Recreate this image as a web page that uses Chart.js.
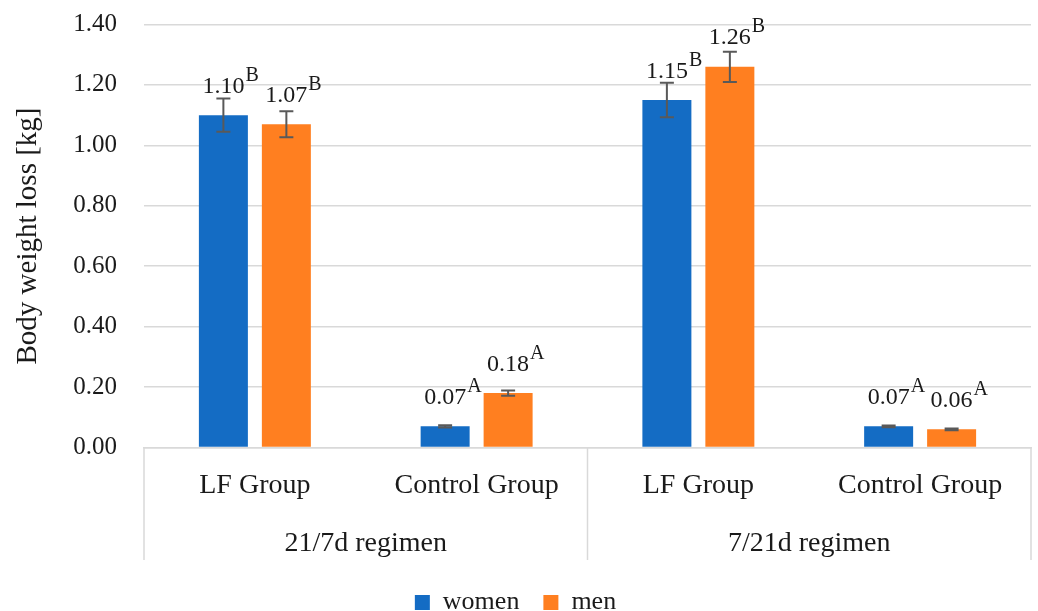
<!DOCTYPE html>
<html>
<head>
<meta charset="utf-8">
<title>Body weight loss by regimen</title>
<script src="https://cdn.jsdelivr.net/npm/chart.js@4.4.1/dist/chart.umd.min.js"></script>
<style>
  html, body { margin: 0; padding: 0; background: #ffffff; }
  #wrap { width: 1038px; height: 611px; position: relative; }
</style>
</head>
<body>
<div id="wrap"><canvas id="chart"></canvas></div>
<script>
// Groups shown along the x axis (inner row) and the regimen each pair belongs to (outer row)
const categories = ['LF Group', 'Control Group', 'LF Group', 'Control Group'];
const regimens = ['21/7d regimen', '7/21d regimen'];

// Mean body weight loss [kg]
const women = [1.10, 0.07, 1.15, 0.07];
const men = [1.07, 0.18, 1.26, 0.06];

// Error bar half-lengths [kg]
const womenErr = [0.055, 0.004, 0.057, 0.003];
const menErr = [0.043, 0.009, 0.050, 0.003];

// Significance letters written after each value
const womenLetters = ['B', 'A', 'B', 'A'];
const menLetters = ['B', 'A', 'B', 'A'];

// Y axis tick range
const yMin = 0;
const yMax = 1.4;
const yStep = 0.2;

const SERIF = '"Liberation Serif", "Times New Roman", serif';
const TEXT = '#1a1a1a';
const GRID = '#d9d9d9';

// Error bars plus "value + superscript letter" labels above every bar
const barAnnotations = {
  id: 'barAnnotations',
  afterDatasetsDraw(chart) {
    const ctx = chart.ctx;
    const yScale = chart.scales.y;
    chart.data.datasets.forEach((ds, di) => {
      const meta = chart.getDatasetMeta(di);
      meta.data.forEach((bar, i) => {
        const v = ds.data[i];
        const e = ds.errors[i];
        const x = bar.x;
        const yHi = yScale.getPixelForValue(v + e);
        const yLo = yScale.getPixelForValue(v - e);
        ctx.save();
        ctx.strokeStyle = '#595959';
        ctx.lineWidth = 2;
        ctx.beginPath();
        ctx.moveTo(x, yHi); ctx.lineTo(x, yLo);
        ctx.moveTo(x - 7, yHi); ctx.lineTo(x + 7, yHi);
        ctx.moveTo(x - 7, yLo); ctx.lineTo(x + 7, yLo);
        ctx.stroke();

        const num = v.toFixed(2);
        const base = bar.y - 22.5;
        ctx.fillStyle = TEXT;
        ctx.textBaseline = 'alphabetic';
        ctx.font = '24px ' + SERIF;
        ctx.textAlign = 'center';
        ctx.fillText(num, x, base);
        const w = ctx.measureText(num).width;
        ctx.font = '20px ' + SERIF;
        ctx.textAlign = 'left';
        ctx.fillText(ds.letters[i], x + w / 2 + 1, base - 12);
        ctx.restore();
      });
    });
  }
};

// Outer category row: regimen names with the box separators below the axis
const regimenGroups = {
  id: 'regimenGroups',
  afterDraw(chart) {
    const { ctx, chartArea, scales } = chart;
    const x = scales.x;
    const top = chartArea.bottom;
    const bottom = top + 112.5;
    const edges = [
      chartArea.left,
      (x.getPixelForValue(1) + x.getPixelForValue(2)) / 2,
      chartArea.right
    ];
    ctx.save();
    ctx.strokeStyle = GRID;
    ctx.lineWidth = 1.5;
    edges.forEach(ex => {
      ctx.beginPath();
      ctx.moveTo(ex, top);
      ctx.lineTo(ex, bottom);
      ctx.stroke();
    });
    ctx.font = '28px ' + SERIF;
    ctx.fillStyle = TEXT;
    ctx.textAlign = 'center';
    ctx.textBaseline = 'alphabetic';
    regimens.forEach((name, g) => {
      const cx = (x.getPixelForValue(2 * g) + x.getPixelForValue(2 * g + 1)) / 2;
      ctx.fillText(name, cx, top + 103.5);
    });
    ctx.restore();
  }
};

new Chart(document.getElementById('chart'), {
  type: 'bar',
  data: {
    labels: categories,
    datasets: [
      {
        label: 'women',
        data: women,
        errors: womenErr,
        letters: womenLetters,
        backgroundColor: '#146cc4',
        borderWidth: 0,
        categoryPercentage: 0.568,
        barPercentage: 0.778
      },
      {
        label: 'men',
        data: men,
        errors: menErr,
        letters: menLetters,
        backgroundColor: '#ff7f20',
        borderWidth: 0,
        categoryPercentage: 0.568,
        barPercentage: 0.778
      }
    ]
  },
  options: {
    responsive: true,
    maintainAspectRatio: false,
    animation: false,
    devicePixelRatio: 1,
    layout: { padding: { top: 24.5, right: 7, bottom: -14.5, left: 0 } },
    plugins: {
      tooltip: { enabled: false },
      legend: {
        position: 'bottom',
        labels: {
          boxWidth: 15,
          boxHeight: 15,
          padding: 24,
          color: TEXT,
          font: { family: SERIF, size: 26 }
        }
      }
    },
    scales: {
      x: {
        grid: { display: false, drawTicks: false },
        border: { display: true, color: GRID, width: 1.5 },
        ticks: {
          padding: 21,
          color: TEXT,
          font: { family: SERIF, size: 28 },
          maxRotation: 0,
          autoSkip: false
        },
        afterFit(scale) { scale.height = 118; }
      },
      y: {
        min: yMin,
        max: yMax,
        grid: { color: GRID, lineWidth: 1.5, drawTicks: false },
        border: { display: false },
        ticks: {
          stepSize: yStep,
          padding: 27,
          color: TEXT,
          font: { family: SERIF, size: 25 },
          callback: v => Number(v).toFixed(2)
        },
        title: {
          display: true,
          text: 'Body weight loss [kg]',
          color: TEXT,
          font: { family: SERIF, size: 29 },
          padding: { top: 11, bottom: 0 }
        },
        afterFit(scale) {
          scale.width = 144;
          scale.paddingTop = 0;
          scale.paddingBottom = 0;
        }
      }
    }
  },
  plugins: [barAnnotations, regimenGroups]
});
</script>
</body>
</html>
